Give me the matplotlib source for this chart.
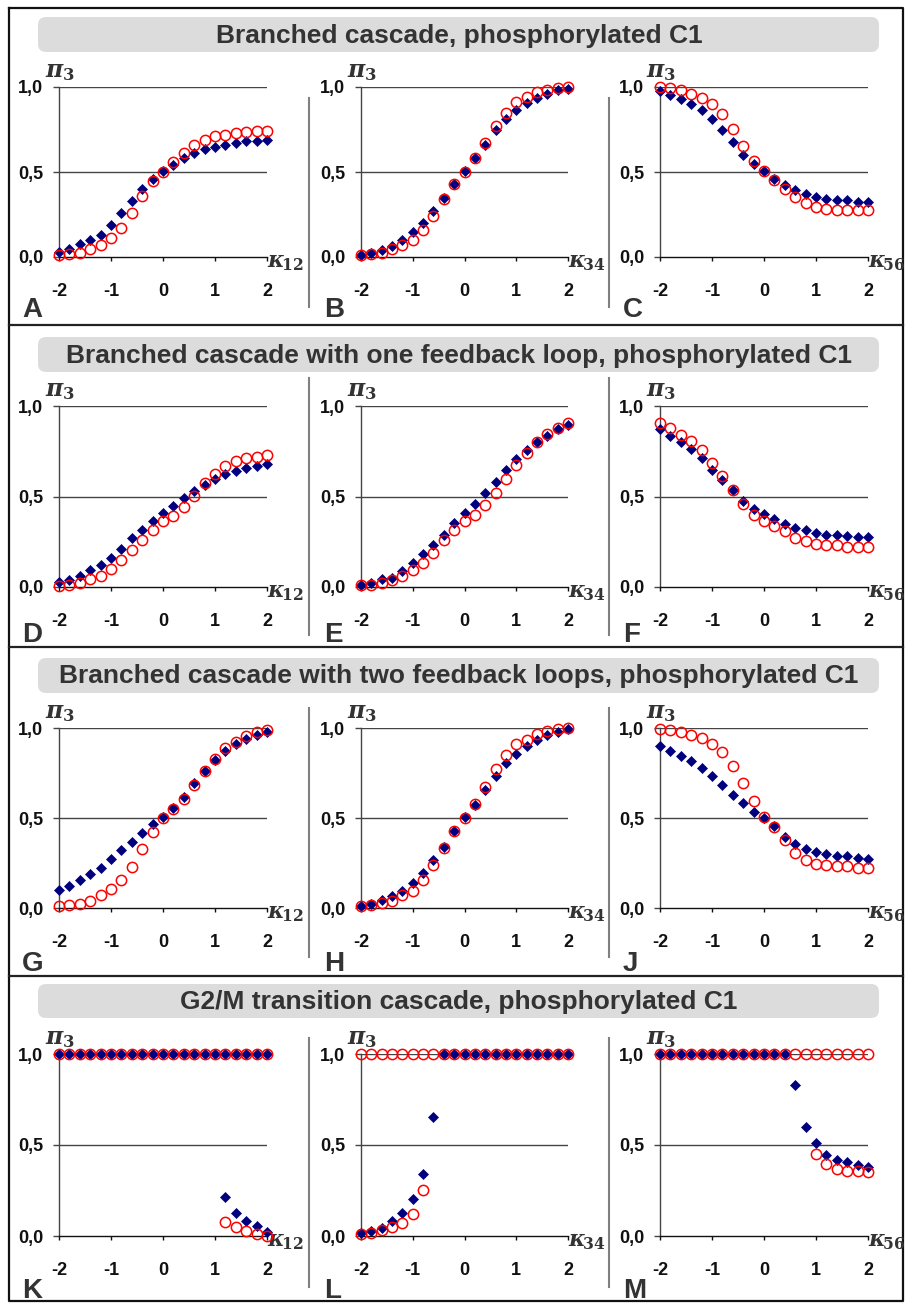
import numpy as np
import matplotlib.pyplot as plt
from matplotlib.patches import FancyBboxPatch

plt.rcParams['font.family'] = ['Liberation Sans', 'DejaVu Sans']
plt.rcParams['font.weight'] = 'bold'
plt.rcParams['mathtext.fontset'] = 'custom'
plt.rcParams['mathtext.rm'] = 'DejaVu Serif'
plt.rcParams['mathtext.it'] = 'DejaVu Serif:italic:bold'

nan = float('nan')

# kappa values on the x axis
kappa = [-2.0, -1.8, -1.6, -1.4, -1.2, -1.0, -0.8, -0.6, -0.4, -0.2, 0.0,
         0.2, 0.4, 0.6, 0.8, 1.0, 1.2, 1.4, 1.6, 1.8, 2.0]

titles = ['Branched cascade, phosphorylated C1',
          'Branched cascade with one feedback loop, phosphorylated C1',
          'Branched cascade with two feedback loops, phosphorylated C1',
          'G2/M transition cascade, phosphorylated C1']
letters = ['A', 'B', 'C', 'D', 'E', 'F', 'G', 'H', 'J', 'K', 'L', 'M']
xlabels = ['12', '34', '56']

# pi_3 values, blue diamonds and red circles
A_blue = [0.03, 0.05, 0.075, 0.10, 0.13, 0.19, 0.26, 0.33, 0.40, 0.46, 0.505,
          0.54, 0.585, 0.61, 0.635, 0.65, 0.66, 0.673, 0.68, 0.683, 0.69]
A_red = [0.01, 0.016, 0.026, 0.05, 0.07, 0.11, 0.17, 0.256, 0.36, 0.445, 0.50,
         0.56, 0.61, 0.66, 0.69, 0.71, 0.72, 0.73, 0.738, 0.74, 0.742]
B_blue = [0.01, 0.024, 0.043, 0.065, 0.10, 0.15, 0.20, 0.27, 0.345, 0.43, 0.505,
          0.58, 0.66, 0.745, 0.81, 0.866, 0.905, 0.935, 0.96, 0.98, 0.988]
B_red = [0.01, 0.016, 0.026, 0.05, 0.073, 0.10, 0.16, 0.24, 0.34, 0.43, 0.50,
         0.58, 0.67, 0.77, 0.85, 0.91, 0.94, 0.97, 0.985, 0.995, 1.0]
C_blue = [0.975, 0.955, 0.93, 0.90, 0.867, 0.814, 0.745, 0.676, 0.60, 0.55, 0.505,
          0.46, 0.425, 0.395, 0.373, 0.353, 0.343, 0.333, 0.333, 0.323, 0.323]
C_red = [1.0, 0.995, 0.98, 0.96, 0.935, 0.90, 0.843, 0.755, 0.653, 0.565, 0.504,
         0.455, 0.40, 0.353, 0.318, 0.294, 0.284, 0.278, 0.275, 0.275, 0.275]
D_blue = [0.028, 0.037, 0.06, 0.092, 0.12, 0.162, 0.212, 0.268, 0.317, 0.363, 0.41,
          0.448, 0.493, 0.53, 0.566, 0.596, 0.622, 0.64, 0.655, 0.668, 0.677]
D_red = [0.005, 0.01, 0.024, 0.042, 0.063, 0.10, 0.148, 0.203, 0.258, 0.317, 0.362,
         0.39, 0.443, 0.504, 0.572, 0.627, 0.668, 0.697, 0.714, 0.72, 0.729]
E_blue = [0.013, 0.024, 0.042, 0.052, 0.089, 0.13, 0.18, 0.23, 0.29, 0.354, 0.41,
          0.46, 0.517, 0.58, 0.646, 0.705, 0.756, 0.80, 0.836, 0.873, 0.895]
E_red = [0.01, 0.01, 0.024, 0.037, 0.06, 0.092, 0.133, 0.19, 0.258, 0.317, 0.363,
         0.40, 0.452, 0.52, 0.598, 0.673, 0.738, 0.80, 0.843, 0.876, 0.908]
F_blue = [0.871, 0.834, 0.80, 0.76, 0.71, 0.648, 0.59, 0.534, 0.473, 0.43, 0.405,
          0.378, 0.35, 0.328, 0.313, 0.30, 0.29, 0.285, 0.28, 0.276, 0.276]
F_red = [0.906, 0.88, 0.842, 0.805, 0.755, 0.687, 0.613, 0.534, 0.46, 0.396, 0.365,
         0.337, 0.31, 0.273, 0.252, 0.236, 0.23, 0.23, 0.221, 0.221, 0.221]
G_blue = [0.10, 0.125, 0.153, 0.188, 0.225, 0.27, 0.32, 0.365, 0.415, 0.465, 0.507,
          0.557, 0.618, 0.692, 0.762, 0.82, 0.87, 0.91, 0.937, 0.963, 0.978]
G_red = [0.01, 0.018, 0.022, 0.037, 0.07, 0.105, 0.157, 0.23, 0.328, 0.42, 0.498,
         0.55, 0.603, 0.686, 0.762, 0.83, 0.89, 0.922, 0.956, 0.978, 0.987]
H_blue = [0.01, 0.024, 0.042, 0.064, 0.092, 0.14, 0.193, 0.266, 0.34, 0.428, 0.505,
          0.575, 0.656, 0.735, 0.803, 0.855, 0.90, 0.932, 0.96, 0.978, 0.993]
H_red = [0.01, 0.015, 0.028, 0.04, 0.07, 0.095, 0.156, 0.24, 0.335, 0.428, 0.50,
         0.58, 0.67, 0.772, 0.851, 0.91, 0.934, 0.965, 0.983, 0.993, 1.0]
J_blue = [0.90, 0.875, 0.845, 0.815, 0.78, 0.733, 0.684, 0.63, 0.586, 0.535, 0.50,
          0.454, 0.393, 0.357, 0.33, 0.31, 0.298, 0.287, 0.287, 0.28, 0.274]
J_red = [0.996, 0.99, 0.978, 0.963, 0.945, 0.912, 0.868, 0.789, 0.697, 0.596, 0.504,
         0.452, 0.379, 0.305, 0.268, 0.246, 0.237, 0.232, 0.232, 0.224, 0.224]
# G2/M cascade: two steady-state branches
K_blue_up = [1.0, 1.0, 1.0, 1.0, 1.0, 1.0, 1.0, 1.0, 1.0, 1.0, 1.0,
             1.0, 1.0, 1.0, 1.0, 1.0, 1.0, 1.0, 1.0, 1.0, 1.0]
K_blue_low = [nan, nan, nan, nan, nan, nan, nan, nan, nan, nan, nan,
              nan, nan, nan, nan, nan, 0.217, 0.128, 0.083, 0.057, 0.024]
K_red_up = [1.0, 1.0, 1.0, 1.0, 1.0, 1.0, 1.0, 1.0, 1.0, 1.0, 1.0,
            1.0, 1.0, 1.0, 1.0, 1.0, 1.0, 1.0, 1.0, 1.0, 1.0]
K_red_low = [nan, nan, nan, nan, nan, nan, nan, nan, nan, nan, nan,
             nan, nan, nan, nan, nan, 0.075, 0.048, 0.03, 0.011, 0.0]
L_blue_up = [nan, nan, nan, nan, nan, nan, nan, nan, 1.0, 1.0, 1.0,
             1.0, 1.0, 1.0, 1.0, 1.0, 1.0, 1.0, 1.0, 1.0, 1.0]
L_blue_low = [0.017, 0.028, 0.046, 0.081, 0.129, 0.206, 0.34, 0.656, nan, nan, nan,
              nan, nan, nan, nan, nan, nan, nan, nan, nan, nan]
L_red_up = [1.0, 1.0, 1.0, 1.0, 1.0, 1.0, 1.0, 1.0, 1.0, 1.0, 1.0,
            1.0, 1.0, 1.0, 1.0, 1.0, 1.0, 1.0, 1.0, 1.0, 1.0]
L_red_low = [0.009, 0.017, 0.031, 0.05, 0.072, 0.123, 0.252, nan, nan, nan, nan,
             nan, nan, nan, nan, nan, nan, nan, nan, nan, nan]
M_blue = [1.0, 1.0, 1.0, 1.0, 1.0, 1.0, 1.0, 1.0, 1.0, 1.0, 1.0,
          1.0, 1.0, 0.832, 0.60, 0.509, 0.447, 0.419, 0.405, 0.39, 0.377]
M_red_up = [1.0, 1.0, 1.0, 1.0, 1.0, 1.0, 1.0, 1.0, 1.0, 1.0, 1.0,
            1.0, 1.0, 1.0, 1.0, 1.0, 1.0, 1.0, 1.0, 1.0, 1.0]
M_red_low = [nan, nan, nan, nan, nan, nan, nan, nan, nan, nan, nan,
             nan, nan, nan, nan, 0.45, 0.396, 0.368, 0.359, 0.355, 0.35]

blue_series = [[A_blue], [B_blue], [C_blue], [D_blue], [E_blue], [F_blue],
               [G_blue], [H_blue], [J_blue], [K_blue_up, K_blue_low],
               [L_blue_up, L_blue_low], [M_blue]]
red_series = [[A_red], [B_red], [C_red], [D_red], [E_red], [F_red],
              [G_red], [H_red], [J_red], [K_red_up, K_red_low],
              [L_red_up, L_red_low], [M_red_up, M_red_low]]

# layout in pixels
W, H = 906, 1305
cols = [(59, 267), (361, 568), (660, 868)]
rows = [(87, 257), (406, 587), (728, 908), (1054, 1236)]
title_boxes = [(17, 52), (337, 372), (658, 693), (984, 1018)]
seps = [325, 647, 976]
vsep = [(98, 307), (378, 635), (708, 957), (1038, 1287)]
letter_base = [317, 642, 971, 1298]

fig = plt.figure(figsize=(W / 100, H / 100), dpi=100)

bg = fig.add_axes([0, 0, 1, 1], zorder=0)
bg.set_xlim(0, W)
bg.set_ylim(H, 0)
bg.axis('off')

bg.plot([9, 903, 903, 9, 9], [8, 8, 1301, 1301, 8], color='#111111', lw=1.6)
for y in seps:
    bg.plot([9, 903], [y, y], color='#222222', lw=1.6)
for r, (y0, y1) in enumerate(vsep):
    for x in (309, 609):
        bg.plot([x, x], [y0, y1], color='#808080', lw=1.5)

for r, (t0, t1) in enumerate(title_boxes):
    box = FancyBboxPatch((38, t0), 841, t1 - t0,
                         boxstyle='round,pad=0,rounding_size=8',
                         fc='#dcdcdc', ec='none')
    bg.add_patch(box)
    bg.text(459, (t0 + t1) / 2 + 1, titles[r], ha='center', va='center',
            fontsize=19, color='#333333', fontweight='bold')

for i in range(12):
    r, c = divmod(i, 3)
    x0, x1 = cols[c]
    ytop, ybot = rows[r]
    ax = fig.add_axes([x0 / W, 1 - ybot / H, (x1 - x0) / W, (ybot - ytop) / H],
                      zorder=2)
    ax.patch.set_visible(False)
    ax.set_xlim(-2, 2)
    ax.set_ylim(0, 1)
    for s in ('top', 'right'):
        ax.spines[s].set_visible(False)
    ax.spines['left'].set_color('#444444')
    ax.spines['bottom'].set_color('#111111')
    ax.spines['left'].set_linewidth(1.0)
    ax.spines['bottom'].set_linewidth(1.0)
    for yv in (0.5, 1.0):
        ax.axhline(yv, color='#444444', lw=1.0, zorder=1)
    ax.set_yticks([0, 0.5, 1.0])
    ax.set_yticklabels(['0,0', '0,5', '1,0'])
    ax.set_xticks([-2, -1, 0, 1, 2])
    ax.set_xticklabels(['-2', '-1', '0', '1', '2'])
    ax.tick_params(axis='y', direction='out', length=4.3, width=1.0,
                   color='#444444', pad=7, labelsize=13)
    ax.tick_params(axis='x', direction='out', length=3, width=1.0,
                   color='#111111', pad=16, labelsize=13)
    for lab in ax.get_xticklabels() + ax.get_yticklabels():
        lab.set_fontweight('bold')
        lab.set_color('#111111')

    for ys in blue_series[i]:
        ax.plot(kappa, ys, ls='none', marker='D', ms=5.4, mfc='#00007f',
                mec='#00007f', mew=0.5, clip_on=False, zorder=3)
    for ys in red_series[i]:
        ax.plot(kappa, ys, ls='none', marker='o', ms=7.4, mfc='none',
                mec='#ff0000', mew=1.1, clip_on=False, zorder=4)

    bg.text(x0 + 1, ytop - 4, r'$\pi_3$', ha='center', va='bottom',
            fontsize=17, color='#333333')
    bg.text(x1, ybot + 10, r'$\kappa_{\!%s}$' % xlabels[c], ha='left',
            va='baseline', fontsize=16, color='#333333')
    bg.text(x0 - 37, letter_base[r], letters[i], ha='left', va='baseline',
            fontsize=20, color='#333333', fontweight='bold')

fig.savefig('out.png', dpi=100)
